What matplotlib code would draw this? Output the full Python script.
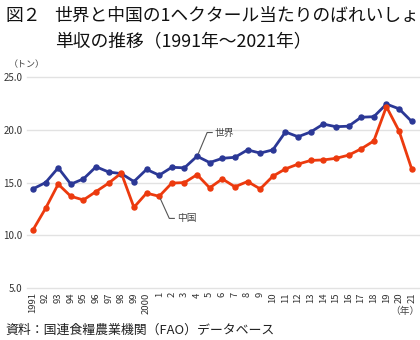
import matplotlib
matplotlib.use("Agg")
import matplotlib.pyplot as plt

plt.rcParams['font.family'] = ['Noto Sans CJK JP', 'DejaVu Sans']

# データ（単位：トン/ヘクタール）
years = list(range(1991, 2022))
world = [14.4, 15.0, 16.4, 14.85, 15.35, 16.5, 16.0, 15.85, 15.1, 16.25,
         15.7, 16.45, 16.4, 17.5, 16.9, 17.3, 17.4, 18.1, 17.8, 18.1,
         19.8, 19.35, 19.8, 20.55, 20.3, 20.35, 21.2, 21.25, 22.45, 22.0, 20.8]
china = [10.5, 12.55, 14.85, 13.7, 13.35, 14.15, 14.95, 15.9, 12.65, 14.0,
         13.7, 14.95, 15.0, 15.75, 14.5, 15.35, 14.6, 15.1, 14.4, 15.6,
         16.3, 16.75, 17.1, 17.15, 17.3, 17.6, 18.2, 18.95, 22.2, 19.9, 16.3]
xlabels = ['1991', '92', '93', '94', '95', '96', '97', '98', '99', '2000',
           '1', '2', '3', '4', '5', '6', '7', '8', '9', '10',
           '11', '12', '13', '14', '15', '16', '17', '18', '19', '20', '21']
yticks = [5.0, 10.0, 15.0, 20.0, 25.0]

blue = '#2b3896'
red = '#ec3a0e'

fig = plt.figure(figsize=(4.2, 3.4), dpi=100)
ax = fig.add_axes([0.064, 0.153, 0.936, 0.62])

for y in yticks:
    ax.axhline(y, color='#e2e2e2', lw=1.0, zorder=0, clip_on=False)

ax.plot(years, world, color=blue, lw=2.0, marker='o', ms=3.6, zorder=3, clip_on=False)
ax.plot(years, china, color=red, lw=2.0, marker='o', ms=3.6, zorder=4, clip_on=False)

ax.set_xlim(1990.52, 2021.66)
ax.set_ylim(5, 25)
ax.set_yticks(yticks)
ax.set_yticklabels([f'{v:.1f}' for v in yticks], fontsize=7, color='#333333')
ax.set_xticks(years)
ax.set_xticklabels(xlabels, rotation=90, fontsize=6.8, color='#333333')
ax.tick_params(length=0, pad=3)
for s in ax.spines.values():
    s.set_visible(False)

# 引き出し線とラベル
i = years.index(2004)
ax.plot([2004.1, 2004.8, 2005.2], [world[i] + 0.25, 19.75, 19.75],
        color='#555555', lw=0.8, zorder=5)
ax.text(2005.4, 19.75, '世界', fontsize=7, color='#444444', va='center', ha='left')
i = years.index(2001)
ax.plot([2001.1, 2001.8, 2002.2], [china[i] - 0.25, 11.6, 11.6],
        color='#555555', lw=0.8, zorder=5)
ax.text(2002.4, 11.6, '中国', fontsize=7, color='#444444', va='center', ha='left')

fig.text(0.012, 0.953, '図２', fontsize=12.8, color='#111111', va='center')
fig.text(0.13, 0.953, '世界と中国の1ヘクタール当たりのばれいしょ', fontsize=12.8,
         color='#111111', va='center')
fig.text(0.13, 0.88, '単収の推移（1991年～2021年）', fontsize=12.8,
         color='#111111', va='center')
fig.text(0.02, 0.81, '（トン）', fontsize=6.5, color='#444444', va='center')
fig.text(0.998, 0.085, '（年）', fontsize=7, color='#444444', va='center', ha='right')
fig.text(0.012, 0.028, '資料：国連食糧農業機関（FAO）データベース', fontsize=9.3,
         color='#222222', va='center')

fig.savefig('out.png', dpi=100)
